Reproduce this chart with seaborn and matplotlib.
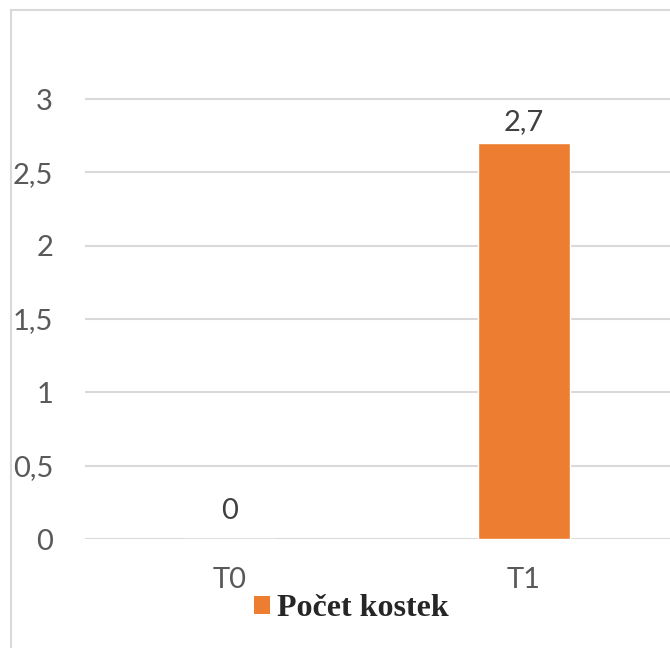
import matplotlib
matplotlib.use("Agg")
import matplotlib.pyplot as plt
import seaborn as sns
import pandas as pd
from matplotlib.patches import Rectangle, Patch

# Data
categories = ["T0", "T1"]
values = [0.0, 2.7]
value_labels = ["0", "2,7"]
y_ticks = [0, 0.5, 1, 1.5, 2, 2.5, 3]
y_tick_labels = ["0", "0,5", "1", "1,5", "2", "2,5", "3"]
series_name = "Počet kostek"

BAR_COLOR = "#ED7D31"
GRID_COLOR = "#D9D9D9"
TICK_COLOR = "#595959"
LABEL_COLOR = "#404040"

sns.set_theme(style="white")
plt.rcParams["font.family"] = ["Lato", "DejaVu Sans"]

W, H = 670, 648
fig = plt.figure(figsize=(W / 100, H / 100), dpi=100)

# outer chart frame
fig.patches.append(Rectangle((11 / W, -0.1), 1.2, 1 - 10 / H + 0.1,
                             transform=fig.transFigure, fill=False,
                             edgecolor=GRID_COLOR, linewidth=1.5))

ymax = 3.3
px_per_unit = (539 - 99) / 3
ax_h = ymax * px_per_unit
ax = fig.add_axes([85 / W, (H - 539) / H, (W - 85) / W, ax_h / H])

df = pd.DataFrame({"cat": categories, "val": values})
sns.barplot(data=df, x="cat", y="val", color=BAR_COLOR, saturation=1,
            width=0.313, ax=ax, zorder=3)

ax.set_xlim(-0.4932, 1.4966)
ax.set_ylim(0, ymax)
ax.set_yticks(y_ticks)
ax.set_yticklabels(y_tick_labels)
ax.set_xlabel("")
ax.set_ylabel("")
ax.yaxis.grid(True, color=GRID_COLOR, linewidth=1.5, zorder=0)
ax.set_axisbelow(True)
for s in ax.spines.values():
    s.set_visible(False)
ax.tick_params(axis="y", length=0, pad=23, labelsize=21, labelcolor=TICK_COLOR)
ax.tick_params(axis="x", length=0, pad=20, labelsize=21, labelcolor=TICK_COLOR)

# value labels above bars
offsets = [14.4, 9.4]
for i, (v, lab) in enumerate(zip(values, value_labels)):
    ax.annotate(lab, (i, v), xytext=(0, offsets[i]), textcoords="offset points",
                ha="center", va="baseline", fontsize=21, color=LABEL_COLOR)

handle = Patch(facecolor=BAR_COLOR, edgecolor="none")
fig.legend([handle], [series_name], loc="center",
           bbox_to_anchor=(351 / W, 1 - 609 / H), frameon=False,
           prop={"family": ["Liberation Serif"], "weight": "bold", "size": 23},
           handlelength=0.5, handleheight=0.5, handletextpad=0.22,
           borderpad=0, borderaxespad=0)

fig.savefig("out.png", dpi=100)
